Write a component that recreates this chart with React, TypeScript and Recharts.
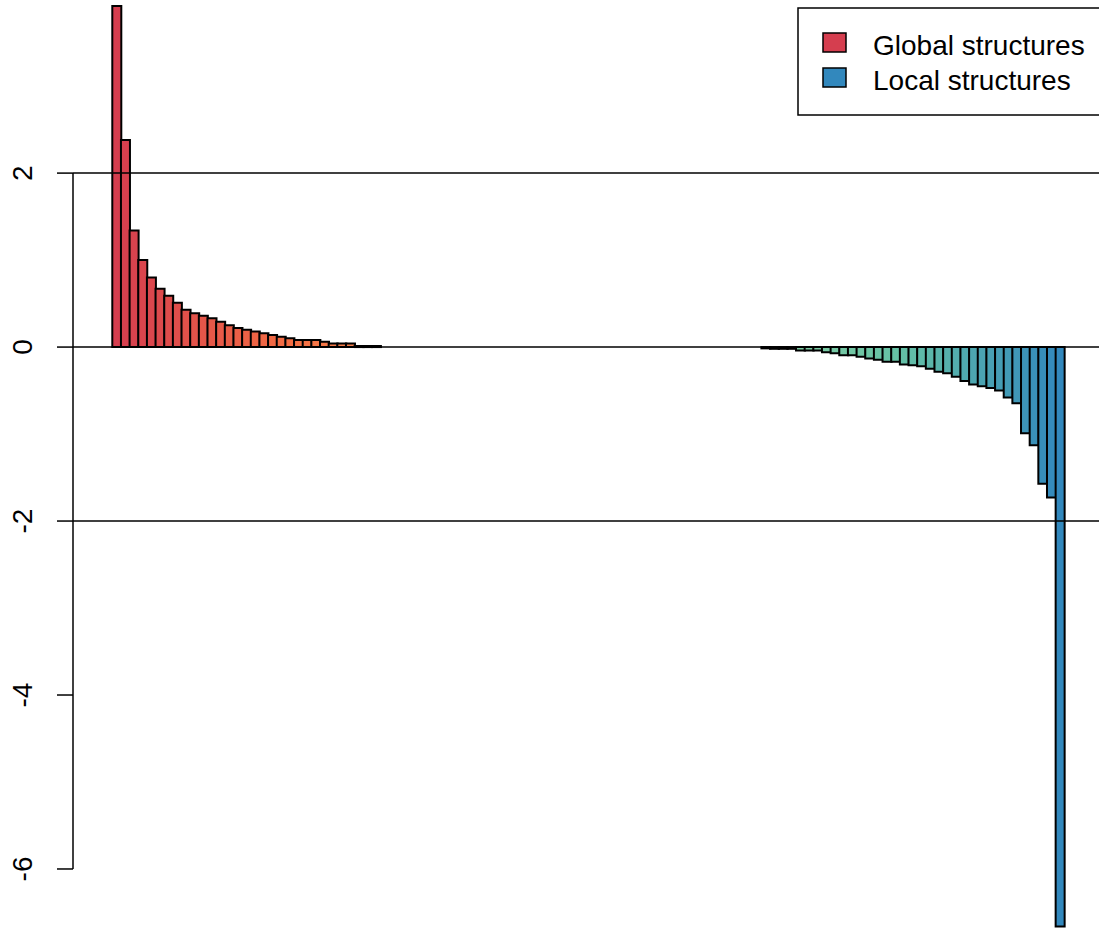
import React from 'react';
import { BarChart, Bar, Cell, XAxis, YAxis, ReferenceLine, Legend } from 'recharts';

// eigenvalues, in decreasing order
const globalEig = [
  3.92, 2.38, 1.34, 1.0, 0.8, 0.67, 0.59, 0.51, 0.43, 0.39, 0.36, 0.33, 0.29, 0.25, 0.22, 0.2,
  0.18, 0.16, 0.14, 0.12, 0.1, 0.08, 0.08, 0.08, 0.06, 0.04, 0.04, 0.04, 0.012, 0.012, 0.012,
];
const nullEig = [
  0, 0, 0, 0, 0, 0, 0, 0, 0, 0, 0, 0, 0, 0, 0, 0, 0, 0, 0, 0, 0, 0,
  0, 0, 0, 0, 0, 0, 0, 0, 0, 0, 0, 0, 0, 0, 0, 0, 0, 0, 0, 0, 0, 0,
];
const localEig = [
  -0.015, -0.02, -0.02, -0.02, -0.04, -0.04, -0.04, -0.06, -0.07, -0.095, -0.095, -0.11,
  -0.13, -0.145, -0.17, -0.17, -0.2, -0.21, -0.22, -0.25, -0.285, -0.3, -0.34, -0.39, -0.43,
  -0.45, -0.47, -0.5, -0.58, -0.645, -0.99, -1.13, -1.57, -1.73, -6.66,
];

const yTicks = [2, 0, -2, -4, -6];
const hLines = [2, 0, -2];

const legendItems = [
  { label: 'Global structures', color: '#D53E4F' },
  { label: 'Local structures', color: '#3288BD' },
];

// colour ramp anchors (bar index -> colour)
const rampStops: [number, string][] = [
  [0, '#D53E4F'],
  [20, '#F46D43'],
  [30, '#F7874E'],
  [52, '#FEE08B'],
  [75, '#86CFA2'],
  [90, '#66C2A5'],
  [109, '#3288BD'],
];

const allEig = [...globalEig, ...nullEig, ...localEig];
const data = allEig.map((v, i) => ({ idx: i + 1, eig: v }));

function hex(c: string) {
  return [1, 3, 5].map((k) => parseInt(c.slice(k, k + 2), 16));
}

function rampColor(i: number) {
  for (let k = 0; k < rampStops.length - 1; k++) {
    const [i0, c0] = rampStops[k];
    const [i1, c1] = rampStops[k + 1];
    if (i >= i0 && i <= i1) {
      const t = (i - i0) / (i1 - i0);
      const a = hex(c0);
      const b = hex(c1);
      const m = a.map((x, j) => Math.round(x + (b[j] - x) * t));
      return `rgb(${m[0]},${m[1]},${m[2]})`;
    }
  }
  return rampStops[rampStops.length - 1][1];
}

const FONT = '"Liberation Sans", Arial, sans-serif';

const YTick = (props: any) => {
  const { x, y, payload } = props;
  return (
    <text
      x={x}
      y={y}
      transform={`rotate(-90, ${x}, ${y})`}
      textAnchor="middle"
      fontSize={28}
      fontFamily={FONT}
      fill="#000"
    >
      {payload.value}
    </text>
  );
};

const LegendBox = () => (
  <svg width={302} height={110} style={{ display: 'block' }}>
    <rect x={1} y={1} width={330} height={107} fill="#fff" stroke="#000" strokeWidth={1.5} />
    {legendItems.map((it, k) => (
      <g key={it.label}>
        <rect x={26} y={26 + k * 35} width={23} height={19} fill={it.color} stroke="#000" strokeWidth={1.5} />
        <text x={76} y={48 + k * 35} fontSize={28} fontFamily={FONT} fill="#000">
          {it.label}
        </text>
      </g>
    ))}
  </svg>
);

export default function App() {
  return (
    <div style={{ position: 'absolute', left: 0, top: 0, width: 1099, height: 929, background: '#fff' }}>
      <BarChart
        width={1099}
        height={929}
        data={data}
        margin={{ top: 0, right: 0, bottom: 0, left: 0 }}
        barCategoryGap={0}
        barGap={0}
      >
        <XAxis dataKey="idx" hide padding={{ left: 39.3, right: 34.7 }} />
        <XAxis xAxisId="frame" type="number" domain={[0, 1]} hide allowDataOverflow />
        <YAxis
          width={73}
          domain={[-6.69, 3.99]}
          ticks={yTicks}
          allowDataOverflow
          axisLine={false}
          tickLine={{ stroke: '#000', strokeWidth: 1.5 }}
          tickSize={16}
          tickMargin={25}
          tick={<YTick />}
          interval={0}
        />
        <Bar dataKey="eig" isAnimationActive={false} stroke="#000" strokeWidth={2}>
          {data.map((d, i) => (
            <Cell key={d.idx} fill={rampColor(i)} />
          ))}
        </Bar>
        {hLines.map((v) => (
          <ReferenceLine key={v} y={v} stroke="#000" strokeWidth={1.5} />
        ))}
        <ReferenceLine
          xAxisId="frame"
          segment={[{ x: 0, y: 2 }, { x: 0, y: -6 }]}
          stroke="#000"
          strokeWidth={1.5}
        />
        <Legend
          layout="horizontal"
          verticalAlign="middle"
          align="center"
          wrapperStyle={{ left: 797, top: 7, width: 302, height: 110 }}
          content={<LegendBox />}
        />
      </BarChart>
    </div>
  );
}
